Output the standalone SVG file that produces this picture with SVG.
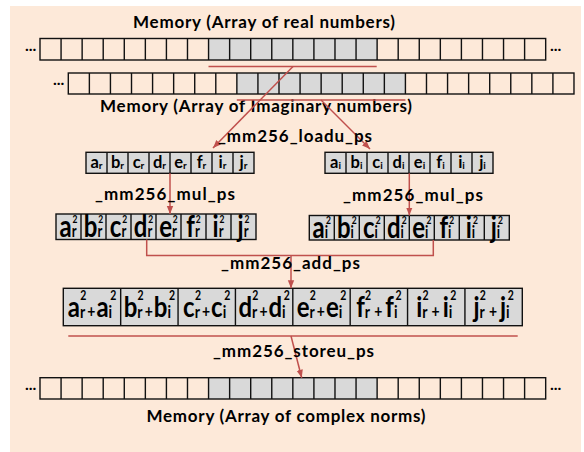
<svg xmlns="http://www.w3.org/2000/svg" width="584" height="452" viewBox="0 0 584 452">
<style>
text{font-family:Lato,"Open Sans","Liberation Sans",sans-serif;font-weight:bold;fill:#000}
.lbl{font-size:17px;text-anchor:middle}
.dots{font-size:16px}
.cell{fill:none;stroke:#111;stroke-width:1.4}
.gfill{fill:#D9D9D9;stroke:none}
.vec{fill:#D9D9D9;stroke:#111;stroke-width:1.4}
.div{fill:none;stroke:#111;stroke-width:1.4}
.v1{font-size:16.5px;text-anchor:middle}
.s1{font-size:10px}
.v2{font-size:24px;text-anchor:middle}
.s2{font-size:13px}
.p2{font-size:8.5px}
.v3{font-size:24px;text-anchor:middle}
.s3{font-size:14px}
.p3{font-size:10.5px}
.con{fill:none;stroke:#C0504D;stroke-width:1.5}
</style>
<defs>
<marker id="ah" viewBox="0 0 10 10" refX="10" refY="5" markerWidth="8" markerHeight="8" markerUnits="userSpaceOnUse" orient="auto"><path d="M0,1 L10,5 L0,9 z" fill="#C0504D"/></marker>
</defs>
<rect x="10" y="6" width="571" height="446" fill="#FDE9D9"/>

<g id="mem-real">
<text class="lbl" x="264" y="28" textLength="262">Memory (Array of real numbers)</text>
<rect class="gfill" x="208.56" y="38.5" width="168.56" height="21.5"/>
<rect class="cell" x="40" y="38.5" width="505.68" height="21.5"/>
<path class="div" d="M61.07,38.5v21.5m21.07,-21.5v21.5m21.07,-21.5v21.5m21.07,-21.5v21.5m21.07,-21.5v21.5m21.07,-21.5v21.5m21.07,-21.5v21.5m21.07,-21.5v21.5m21.07,-21.5v21.5m21.07,-21.5v21.5m21.07,-21.5v21.5m21.07,-21.5v21.5m21.07,-21.5v21.5m21.07,-21.5v21.5m21.07,-21.5v21.5m21.07,-21.5v21.5m21.07,-21.5v21.5m21.07,-21.5v21.5m21.07,-21.5v21.5m21.07,-21.5v21.5m21.07,-21.5v21.5m21.07,-21.5v21.5m21.07,-21.5v21.5"/>
<text class="dots" x="25" y="51">...</text>
<text class="dots" x="550" y="51">...</text>
</g>

<g id="mem-imag">
<rect class="gfill" x="236.86" y="73" width="168.56" height="21"/>
<rect class="cell" x="68.3" y="73" width="505.68" height="21"/>
<path class="div" d="M89.37,73v21m21.07,-21v21m21.07,-21v21m21.07,-21v21m21.07,-21v21m21.07,-21v21m21.07,-21v21m21.07,-21v21m21.07,-21v21m21.07,-21v21m21.07,-21v21m21.07,-21v21m21.07,-21v21m21.07,-21v21m21.07,-21v21m21.07,-21v21m21.07,-21v21m21.07,-21v21m21.07,-21v21m21.07,-21v21m21.07,-21v21m21.07,-21v21m21.07,-21v21"/>
<text class="dots" x="53" y="85">...</text>
<text class="lbl" x="256" y="112" textLength="312">Memory (Array of Imaginary numbers)</text>
</g>

<g id="vec-real">
<rect class="vec" x="86" y="152.3" width="168" height="21"/>
<path class="div" d="M107,152.3v21m21,-21v21m21,-21v21m21,-21v21m21,-21v21m21,-21v21m21,-21v21"/>
<text class="v1" x="96.5" y="168.3">a<tspan class="s1" dy="1">r</tspan></text>
<text class="v1" x="117.5" y="168.3">b<tspan class="s1" dy="1">r</tspan></text>
<text class="v1" x="138.5" y="168.3">c<tspan class="s1" dy="1">r</tspan></text>
<text class="v1" x="159.5" y="168.3">d<tspan class="s1" dy="1">r</tspan></text>
<text class="v1" x="180.5" y="168.3">e<tspan class="s1" dy="1">r</tspan></text>
<text class="v1" x="201.5" y="168.3">f<tspan class="s1" dy="1">r</tspan></text>
<text class="v1" x="222.5" y="168.3">i<tspan class="s1" dy="1">r</tspan></text>
<text class="v1" x="243.5" y="168.3">j<tspan class="s1" dy="1">r</tspan></text>
</g>

<g id="vec-imag">
<rect class="vec" x="325" y="152.3" width="168" height="21"/>
<path class="div" d="M346,152.3v21m21,-21v21m21,-21v21m21,-21v21m21,-21v21m21,-21v21m21,-21v21"/>
<text class="v1" x="335.5" y="168.3">a<tspan class="s1" dy="1">i</tspan></text>
<text class="v1" x="356.5" y="168.3">b<tspan class="s1" dy="1">i</tspan></text>
<text class="v1" x="377.5" y="168.3">c<tspan class="s1" dy="1">i</tspan></text>
<text class="v1" x="398.5" y="168.3">d<tspan class="s1" dy="1">i</tspan></text>
<text class="v1" x="419.5" y="168.3">e<tspan class="s1" dy="1">i</tspan></text>
<text class="v1" x="440.5" y="168.3">f<tspan class="s1" dy="1">i</tspan></text>
<text class="v1" x="461.5" y="168.3">i<tspan class="s1" dy="1">i</tspan></text>
<text class="v1" x="482.5" y="168.3">j<tspan class="s1" dy="1">i</tspan></text>
</g>

<g id="sq-real">
<rect class="vec" x="56" y="214" width="200" height="25.5"/>
<path class="div" d="M81,214v25.5m25,-25.5v25.5m25,-25.5v25.5m25,-25.5v25.5m25,-25.5v25.5m25,-25.5v25.5m25,-25.5v25.5"/>
<text class="v2" transform="translate(68.5,236.5) scale(1,1.28)">a<tspan class="s2" dy="0.5">r</tspan><tspan class="p2" dx="-4" dy="-11">2</tspan></text>
<text class="v2" transform="translate(93.5,236.5) scale(1,1.28)">b<tspan class="s2" dy="0.5">r</tspan><tspan class="p2" dx="-4" dy="-11">2</tspan></text>
<text class="v2" transform="translate(118.5,236.5) scale(1,1.28)">c<tspan class="s2" dy="0.5">r</tspan><tspan class="p2" dx="-4" dy="-11">2</tspan></text>
<text class="v2" transform="translate(143.5,236.5) scale(1,1.28)">d<tspan class="s2" dy="0.5">r</tspan><tspan class="p2" dx="-4" dy="-11">2</tspan></text>
<text class="v2" transform="translate(168.5,236.5) scale(1,1.28)">e<tspan class="s2" dy="0.5">r</tspan><tspan class="p2" dx="-4" dy="-11">2</tspan></text>
<text class="v2" transform="translate(193.5,236.5) scale(1,1.28)">f<tspan class="s2" dy="0.5">r</tspan><tspan class="p2" dx="-4" dy="-11">2</tspan></text>
<text class="v2" transform="translate(218.5,236.5) scale(1,1.28)">i<tspan class="s2" dy="0.5">r</tspan><tspan class="p2" dx="-4" dy="-11">2</tspan></text>
<text class="v2" transform="translate(243.5,236.5) scale(1,1.28)">j<tspan class="s2" dy="0.5">r</tspan><tspan class="p2" dx="-4" dy="-11">2</tspan></text>
</g>

<g id="sq-imag">
<rect class="vec" x="309.3" y="215.5" width="200" height="24.5"/>
<path class="div" d="M334.3,215.5v24.5m25,-24.5v24.5m25,-24.5v24.5m25,-24.5v24.5m25,-24.5v24.5m25,-24.5v24.5m25,-24.5v24.5"/>
<text class="v2" transform="translate(321.8,237.5) scale(1,1.28)">a<tspan class="s2" dy="0.5">i</tspan><tspan class="p2" dx="-2" dy="-11">2</tspan></text>
<text class="v2" transform="translate(346.8,237.5) scale(1,1.28)">b<tspan class="s2" dy="0.5">i</tspan><tspan class="p2" dx="-2" dy="-11">2</tspan></text>
<text class="v2" transform="translate(371.8,237.5) scale(1,1.28)">c<tspan class="s2" dy="0.5">i</tspan><tspan class="p2" dx="-2" dy="-11">2</tspan></text>
<text class="v2" transform="translate(396.8,237.5) scale(1,1.28)">d<tspan class="s2" dy="0.5">i</tspan><tspan class="p2" dx="-2" dy="-11">2</tspan></text>
<text class="v2" transform="translate(421.8,237.5) scale(1,1.28)">e<tspan class="s2" dy="0.5">i</tspan><tspan class="p2" dx="-2" dy="-11">2</tspan></text>
<text class="v2" transform="translate(446.8,237.5) scale(1,1.28)">f<tspan class="s2" dy="0.5">i</tspan><tspan class="p2" dx="-2" dy="-11">2</tspan></text>
<text class="v2" transform="translate(471.8,237.5) scale(1,1.28)">i<tspan class="s2" dy="0.5">i</tspan><tspan class="p2" dx="-2" dy="-11">2</tspan></text>
<text class="v2" transform="translate(496.8,237.5) scale(1,1.28)">j<tspan class="s2" dy="0.5">i</tspan><tspan class="p2" dx="-2" dy="-11">2</tspan></text>
</g>

<g id="sum">
<rect class="vec" x="63.3" y="288.3" width="459" height="37.4"/>
<path class="div" d="M120.68,288.3v37.4m57.375,-37.4v37.4m57.375,-37.4v37.4m57.375,-37.4v37.4m57.375,-37.4v37.4m57.375,-37.4v37.4m57.375,-37.4v37.4"/>
<text class="v3" transform="translate(92,316.5) scale(1,1.18)">a<tspan class="s3" dy="1">r</tspan><tspan class="p3" dx="-5" dy="-15">2</tspan><tspan class="s3" dx="1" dy="14">+</tspan><tspan dx="1">a</tspan><tspan class="s3" dy="1">i</tspan><tspan class="p3" dx="-2" dy="-15">2</tspan></text>
<text class="v3" transform="translate(149.4,316.5) scale(1,1.18)">b<tspan class="s3" dy="1">r</tspan><tspan class="p3" dx="-5" dy="-15">2</tspan><tspan class="s3" dx="1" dy="14">+</tspan><tspan dx="1">b</tspan><tspan class="s3" dy="1">i</tspan><tspan class="p3" dx="-2" dy="-15">2</tspan></text>
<text class="v3" transform="translate(206.7,316.5) scale(1,1.18)">c<tspan class="s3" dy="1">r</tspan><tspan class="p3" dx="-5" dy="-15">2</tspan><tspan class="s3" dx="1" dy="14">+</tspan><tspan dx="1">c</tspan><tspan class="s3" dy="1">i</tspan><tspan class="p3" dx="-2" dy="-15">2</tspan></text>
<text class="v3" transform="translate(264.1,316.5) scale(1,1.18)">d<tspan class="s3" dy="1">r</tspan><tspan class="p3" dx="-5" dy="-15">2</tspan><tspan class="s3" dx="1" dy="14">+</tspan><tspan dx="1">d</tspan><tspan class="s3" dy="1">i</tspan><tspan class="p3" dx="-2" dy="-15">2</tspan></text>
<text class="v3" transform="translate(321.5,316.5) scale(1,1.18)">e<tspan class="s3" dy="1">r</tspan><tspan class="p3" dx="-5" dy="-15">2</tspan><tspan class="s3" dx="1" dy="14">+</tspan><tspan dx="1">e</tspan><tspan class="s3" dy="1">i</tspan><tspan class="p3" dx="-2" dy="-15">2</tspan></text>
<text class="v3" transform="translate(378.9,316.5) scale(1,1.18)">f<tspan class="s3" dy="1">r</tspan><tspan class="p3" dx="-5" dy="-15">2</tspan><tspan class="s3" dx="3" dy="14">+</tspan><tspan dx="3">f</tspan><tspan class="s3" dy="1">i</tspan><tspan class="p3" dx="-2" dy="-15">2</tspan></text>
<text class="v3" transform="translate(436.3,316.5) scale(1,1.18)">i<tspan class="s3" dy="1">r</tspan><tspan class="p3" dx="-5" dy="-15">2</tspan><tspan class="s3" dx="3" dy="14">+</tspan><tspan dx="3">i</tspan><tspan class="s3" dy="1">i</tspan><tspan class="p3" dx="-2" dy="-15">2</tspan></text>
<text class="v3" transform="translate(493.6,316.5) scale(1,1.18)">j<tspan class="s3" dy="1">r</tspan><tspan class="p3" dx="-5" dy="-15">2</tspan><tspan class="s3" dx="3" dy="14">+</tspan><tspan dx="3">j</tspan><tspan class="s3" dy="1">i</tspan><tspan class="p3" dx="-2" dy="-15">2</tspan></text>
</g>

<g id="mem-norm">
<rect class="gfill" x="208.56" y="377.7" width="168.56" height="21.3"/>
<rect class="cell" x="40" y="377.7" width="505.68" height="21.3"/>
<path class="div" d="M61.07,377.7v21.3m21.07,-21.3v21.3m21.07,-21.3v21.3m21.07,-21.3v21.3m21.07,-21.3v21.3m21.07,-21.3v21.3m21.07,-21.3v21.3m21.07,-21.3v21.3m21.07,-21.3v21.3m21.07,-21.3v21.3m21.07,-21.3v21.3m21.07,-21.3v21.3m21.07,-21.3v21.3m21.07,-21.3v21.3m21.07,-21.3v21.3m21.07,-21.3v21.3m21.07,-21.3v21.3m21.07,-21.3v21.3m21.07,-21.3v21.3m21.07,-21.3v21.3m21.07,-21.3v21.3m21.07,-21.3v21.3m21.07,-21.3v21.3"/>
<text class="dots" x="25" y="390">...</text>
<text class="dots" x="550" y="390">...</text>
<text class="lbl" x="286" y="421.7" textLength="279">Memory (Array of complex norms)</text>
</g>

<g id="connectors">
<path class="con" d="M208.5,66.5H376.7"/>
<path class="con" d="M236.8,100H405.4"/>
<path class="con" d="M293,66.5L213,148" marker-end="url(#ah)"/>
<path class="con" d="M321,100L370,149" marker-end="url(#ah)"/>
<path class="con" d="M170,173.3V214" marker-end="url(#ah)"/>
<path class="con" d="M409.3,173.3V215.5" marker-end="url(#ah)"/>
<path class="con" d="M146.7,239.5V255.5H433.3V240"/>
<path class="con" d="M291,255.5V288.3" marker-end="url(#ah)"/>
<path class="con" d="M68.3,336H517.7"/>
<path class="con" d="M291,336L301.7,377.7" marker-end="url(#ah)"/>
<text class="lbl" x="295" y="142" textLength="154">_mm256_loadu_ps</text>
<text class="lbl" x="165" y="200" textLength="140">_mm256_mul_ps</text>
<text class="lbl" x="413" y="201" textLength="140">_mm256_mul_ps</text>
<text class="lbl" x="290.5" y="269" textLength="139">_mm256_add_ps</text>
<text class="lbl" x="293.5" y="357" textLength="161">_mm256_storeu_ps</text>
</g>
</svg>
